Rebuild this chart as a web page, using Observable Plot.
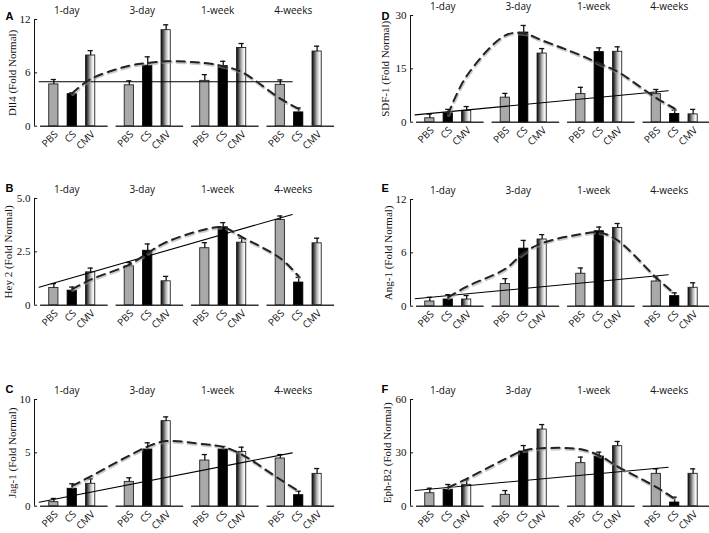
<!DOCTYPE html>
<html><head><meta charset="utf-8">
<script src="https://cdn.jsdelivr.net/npm/d3@7"></script>
<script src="https://cdn.jsdelivr.net/npm/@observablehq/plot@0.6"></script>
<style>
body{margin:0;background:#fff;}
#fig{position:relative;width:709px;height:533px;overflow:hidden;background:#fff;}
#fig svg{position:absolute;overflow:visible;background:transparent;}
</style></head><body><div id="fig"></div>
<script>
const timepoints = ["1-day", "3-day", "1-week", "4-weeks"];
const treatments = ["PBS", "CS", "CMV"];

// A: Dll4
const dll4PBS = [4.7, 4.6, 5.1, 4.65];
const dll4PBSErr = [0.55, 0.5, 0.7, 0.55];
const dll4CS = [3.6, 6.8, 6.75, 1.55];
const dll4CSErr = [0.15, 1.0, 0.55, 0.5];
const dll4CMV = [7.95, 10.8, 8.8, 8.4];
const dll4CMVErr = [0.55, 0.6, 0.5, 0.6];
const dll4Trend = [3.7, 5.3, 6.8, 7.1, 7.3, 7.1, 6.75, 6.1, 3.1, 1.95];
const dll4Fit = [5.0, 5.0];
const dll4Ticks = [0, 6, 12];

// B: Hey 2
const hey2PBS = [0.81, 1.82, 2.67, 3.99];
const hey2PBSErr = [0.2, 0.18, 0.26, 0.19];
const hey2CS = [0.68, 2.55, 3.65, 1.06];
const hey2CSErr = [0.17, 0.32, 0.22, 0.24];
const hey2CMV = [1.54, 1.12, 2.93, 2.9];
const hey2CMVErr = [0.2, 0.23, 0.21, 0.24];
const hey2Trend = [0.75, 1.2, 1.9, 2.45, 2.95, 3.55, 3.65, 3.2, 2.2, 1.35];
const hey2Fit = [0.84, 4.25];
const hey2Ticks = [0, 2.5, 5.0];

// C: Jag-1
const jag1PBS = [0.375, 2.28, 4.28, 4.47];
const jag1PBSErr = [0.35, 0.38, 0.56, 0.37];
const jag1CS = [1.63, 5.31, 5.31, 1.03];
const jag1CSErr = [0.47, 0.63, 0.29, 0.37];
const jag1CMV = [2.1, 7.97, 5.09, 3.03];
const jag1CMVErr = [0.46, 0.4, 0.44, 0.5];
const jag1Trend = [1.9, 2.8, 4.75, 5.6, 6.1, 5.8, 5.56, 4.85, 2.5, 1.4];
const jag1Fit = [0.375, 5.0];
const jag1Ticks = [0, 5, 10];

// D: SDF-1
const sdf1PBS = [1.1, 6.9, 7.9, 7.9];
const sdf1PBSErr = [1.2, 1.2, 1.9, 1.3];
const sdf1CS = [2.5, 25.2, 19.7, 2.3];
const sdf1CSErr = [1.1, 2.0, 1.2, 1.1];
const sdf1CMV = [3.2, 19.3, 19.8, 2.2];
const sdf1CMVErr = [1.2, 1.4, 1.4, 1.4];
const sdf1Trend = [2.3, 13, 24.4, 25, 23, 18.8, 16.5, 14.2, 6.8, 3.8];
const sdf1Fit = [2.05, 8.85];
const sdf1Ticks = [0, 15, 30];

// E: Ang-1
const ang1PBS = [0.53, 2.5, 3.65, 2.78];
const ang1PBSErr = [0.47, 0.6, 0.65, 0.49];
const ang1CS = [0.75, 6.47, 8.43, 1.13];
const ang1CSErr = [0.55, 0.93, 0.47, 0.37];
const ang1CMV = [0.75, 7.5, 8.8, 2.07];
const ang1CMVErr = [0.45, 0.55, 0.5, 0.56];
const ang1Trend = [1.0, 2.2, 4.2, 6.0, 7.1, 8.1, 8.3, 7.4, 3.2, 1.4];
const ang1Fit = [0.83, 3.54];
const ang1Ticks = [0, 6, 12];

// F: Eph-B2
const ephb2PBS = [7.3, 6.4, 24.2, 18.2];
const ephb2PBSErr = [2.8, 2.4, 3.4, 2.8];
const ephb2CS = [9.2, 30.75, 27.9, 2.06];
const ephb2CSErr = [3.0, 3.35, 2.5, 3.0];
const ephb2CMV = [12, 43.1, 33.75, 18.2];
const ephb2CMVErr = [2.8, 2.8, 2.65, 2.8];
const ephb2Trend = [10.5, 15.4, 26.6, 31.3, 32.6, 32, 28.5, 22.3, 10.7, 4.1];
const ephb2Fit = [8.8, 21.9];
const ephb2Ticks = [0, 30, 60];

const panels = [
  {letter: "A", label: "Dll4 (Fold Normal)", vals: [dll4PBS, dll4CS, dll4CMV], errs: [dll4PBSErr, dll4CSErr, dll4CMVErr], trend: dll4Trend, fit: dll4Fit, ticks: dll4Ticks, fmt: d => String(d), left: 0, top: 0, letterDy: -7.5, labelDx: -22},
  {letter: "B", label: "Hey 2 (Fold Normal)", vals: [hey2PBS, hey2CS, hey2CMV], errs: [hey2PBSErr, hey2CSErr, hey2CMVErr], trend: hey2Trend, fit: hey2Fit, ticks: hey2Ticks, fmt: d => d === 0 ? "0" : d.toFixed(1), left: 0, top: 179.3, letterDy: -14, labelDx: -26},
  {letter: "C", label: "Jag-1 (Fold Normal)", vals: [jag1PBS, jag1CS, jag1CMV], errs: [jag1PBSErr, jag1CSErr, jag1CMVErr], trend: jag1Trend, fit: jag1Fit, ticks: jag1Ticks, fmt: d => String(d), left: 0, top: 380, letterDy: -14, labelDx: -22},
  {letter: "D", label: "SDF-1 (Fold Normal)", vals: [sdf1PBS, sdf1CS, sdf1CMV], errs: [sdf1PBSErr, sdf1CSErr, sdf1CMVErr], trend: sdf1Trend, fit: sdf1Fit, ticks: sdf1Ticks, fmt: d => String(d), left: 376, top: -4, letterDy: -3.5, labelDx: -25},
  {letter: "E", label: "Ang-1 (Fold Normal)", vals: [ang1PBS, ang1CS, ang1CMV], errs: [ang1PBSErr, ang1CSErr, ang1CMVErr], trend: ang1Trend, fit: ang1Fit, ticks: ang1Ticks, fmt: d => String(d), left: 376, top: 180, letterDy: -15, labelDx: -22},
  {letter: "F", label: "Eph-B2 (Fold Normal)", vals: [ephb2PBS, ephb2CS, ephb2CMV], errs: [ephb2PBSErr, ephb2CSErr, ephb2CMVErr], trend: ephb2Trend, fit: ephb2Fit, ticks: ephb2Ticks, fmt: d => String(d), left: 376, top: 379.5, letterDy: -14, labelDx: -23}
];

const STEP = 4.1;      // slot distance between time groups
const XMIN = -1.05, XMAX = 15.57;
const BW = 0.25;       // half bar width in slots
const sans = "'Open Sans', 'DejaVu Sans', sans-serif";
const serif = "'Liberation Serif', 'DejaVu Serif', serif";
const fig = document.getElementById("fig");

for (const p of panels) {
  const ymax = p.ticks[p.ticks.length - 1];
  const bars = [];
  timepoints.forEach((t, g) => treatments.forEach((c, i) => {
    bars.push({t, c, g, i, pos: g * STEP + i, value: p.vals[i][g], err: p.errs[i][g]});
  }));
  const trendPts = bars.slice(1, 11).map((b, k) => ({pos: b.pos, v: p.trend[k]}));
  const pbs = bars.filter(b => b.c === "PBS");
  const fitPts = [{pos: pbs[0].pos - 0.8, v: p.fit[0]}, {pos: pbs[3].pos + 0.65, v: p.fit[1]}];
  const gradId = "cmvGrad" + p.letter;

  const svg = Plot.plot({
    width: 340, height: 150,
    marginLeft: 34, marginRight: 0, marginTop: 19, marginBottom: 24.3,
    x: {domain: [XMIN, XMAX], axis: null},
    y: {domain: [0, ymax], axis: null},
    style: {background: "transparent", overflow: "visible"},
    marks: [
      Plot.ruleY(timepoints, {y: () => 0, x1: (d, g) => g * STEP - 0.72, x2: (d, g) => g * STEP + 2.95, stroke: "#333", strokeWidth: 1.6}),
      Plot.ruleX([XMIN], {x: d => d, y1: () => 0, y2: () => ymax, stroke: "#111", strokeWidth: 1}),
      Plot.ruleY(p.ticks, {y: d => d, x1: () => XMIN, x2: () => XMIN + 0.17, stroke: "#111", strokeWidth: 1}),
      Plot.text(p.ticks, {x: () => XMIN, y: d => d, text: p.fmt, textAnchor: "end", dx: -4, fontFamily: serif, fontSize: 11, fill: "#111"}),
      Plot.rect(bars.filter(b => b.c === "PBS"), {x1: d => d.pos - BW, x2: d => d.pos + BW, y1: () => 0, y2: "value", fill: "#a9a9a9", stroke: "#222", strokeWidth: 0.9}),
      Plot.rect(bars.filter(b => b.c === "CS"), {x1: d => d.pos - BW, x2: d => d.pos + BW, y1: () => 0, y2: "value", fill: "#000", stroke: "#000", strokeWidth: 0.9}),
      Plot.rect(bars.filter(b => b.c === "CMV"), {x1: d => d.pos - BW, x2: d => d.pos + BW, y1: () => 0, y2: "value", fill: `url(#${gradId})`, stroke: "#222", strokeWidth: 0.9}),
      Plot.ruleX(bars, {x: "pos", y1: "value", y2: d => d.value + d.err, stroke: "#111", strokeWidth: 1.3}),
      Plot.ruleY(bars, {y: d => d.value + d.err, x1: d => d.pos - 0.14, x2: d => d.pos + 0.14, stroke: "#111", strokeWidth: 1.3}),
      Plot.line(fitPts, {x: "pos", y: "v", stroke: "#000", strokeWidth: 1.1}),
      Plot.line(trendPts, {x: "pos", y: "v", curve: "catmull-rom", stroke: "#999", strokeOpacity: 0.5, strokeWidth: 3.5, strokeDasharray: "8,6", dx: 0.5, dy: 1}),
      Plot.line(trendPts, {x: "pos", y: "v", curve: "catmull-rom", stroke: "#222", strokeWidth: 2, strokeDasharray: "8,6"}),
      Plot.text(timepoints, {x: (d, g) => g * STEP + 0.7, y: () => ymax, text: d => d, dy: -9, fontFamily: sans, fontSize: 10, fill: "#111"}),
      Plot.text(bars, {x: "pos", y: () => 0, text: "c", rotate: -45, textAnchor: "end", dx: 2.5, dy: 6.5, fontFamily: sans, fontSize: 10, fill: "#111"}),
      Plot.text([p.letter], {frameAnchor: "top-left", text: d => d, dx: -29, dy: p.letterDy, textAnchor: "start", fontFamily: "'Liberation Sans', Arial, sans-serif", fontWeight: "bold", fontSize: 11, fill: "#000"}),
      Plot.text([p.label], {frameAnchor: "left", text: d => d, rotate: -90, textAnchor: "middle", dx: p.labelDx, fontFamily: serif, fontSize: 11, fill: "#111"})
    ]
  });
  d3.select(svg).insert("defs", ":first-child").html(
    `<linearGradient id="${gradId}" x1="0" x2="1" y1="0" y2="0">
      <stop offset="0" stop-color="#000"/>
      <stop offset="0.25" stop-color="#555"/>
      <stop offset="0.55" stop-color="#bbb"/>
      <stop offset="0.8" stop-color="#f4f4f4"/>
      <stop offset="1" stop-color="#fff"/>
    </linearGradient>`);
  svg.style.left = p.left + "px";
  svg.style.top = p.top + "px";
  fig.appendChild(svg);
}
</script></body></html>
